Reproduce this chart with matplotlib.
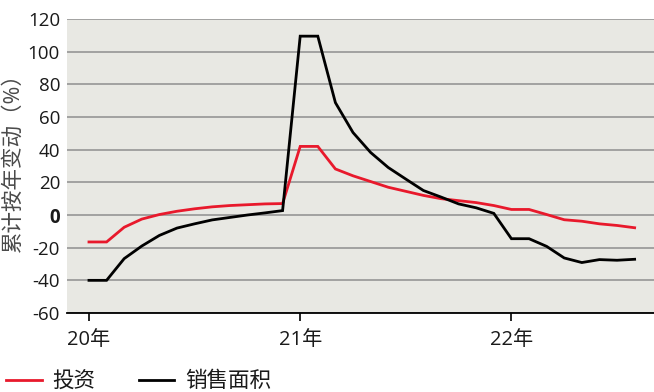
import matplotlib
matplotlib.use("Agg")
import matplotlib.pyplot as plt
from matplotlib.ticker import FixedLocator

plt.rcParams['font.family'] = ['Open Sans', 'Noto Sans CJK SC', 'DejaVu Sans']

# Monthly cumulative YoY change, Jan 2020 - Aug 2022 (Jan repeats the Jan-Feb figure)
months = list(range(32))
investment = [-16.5, -16.5, -7.5, -2.5, 0.3, 2.3, 3.8, 5.0, 5.8, 6.3, 6.8, 7.0,
              42.0, 42.0, 28.2, 24.0, 20.5, 17.0, 14.5, 12.0, 10.0, 8.8, 7.6, 5.8,
              3.4, 3.4, 0.3, -2.9, -3.8, -5.4, -6.4, -7.8]
sales_area = [-40.0, -40.0, -26.7, -19.0, -12.5, -8.0, -5.4, -3.0, -1.5, 0.0, 1.3, 2.7,
              109.5, 109.5, 68.8, 50.5, 38.3, 29.1, 22.0, 15.0, 11.0, 6.8, 4.4, 1.0,
              -14.5, -14.5, -19.2, -26.3, -29.1, -27.3, -27.7, -27.1]
year_ticks = [0, 12, 24]
year_labels = ["20年", "21年", "22年"]
y_ticks = [-60, -40, -20, 0, 20, 40, 60, 80, 100, 120]

fig = plt.figure(figsize=(6.54, 3.92), dpi=100)
ax = fig.add_axes([0.1024, 0.2015, 0.8976, 0.75])
ax.set_facecolor("#e8e8e3")

ax.plot(months, investment, color="#e8192c", lw=2.0, label="投资", solid_joinstyle="miter", zorder=3)
ax.plot(months, sales_area, color="#000000", lw=2.0, label="销售面积", solid_joinstyle="miter", zorder=4)

ax.set_xlim(-1.25, 32.1)
ax.set_ylim(-60, 120)
ax.yaxis.set_major_locator(FixedLocator(y_ticks))
ax.set_yticks(y_ticks)
ax.set_yticklabels([str(v) for v in y_ticks])
for lab in ax.get_yticklabels():
    if lab.get_text() == "0":
        lab.set_fontweight("bold")
ax.grid(axis="y", color="#9c9c9c", lw=1.3, zorder=1)
ax.set_axisbelow(True)

ax.set_xticks(year_ticks)
ax.set_xticklabels(year_labels)

for s in ["left", "right", "top"]:
    ax.spines[s].set_visible(False)
ax.spines["bottom"].set_color("#000000")
ax.spines["bottom"].set_linewidth(1.3)
ax.spines["bottom"].set_zorder(5)

ax.tick_params(axis="y", length=0, pad=5, labelsize=13.5, labelcolor="#1a1a1a")
ax.tick_params(axis="x", length=6, width=1.2, direction="out", pad=6,
               labelsize=14.5, labelcolor="#1a1a1a", color="#000000")

ax.set_ylabel("累计按年变动（%）", fontsize=15.5, color="#4a4a4a")
ax.yaxis.set_label_coords(-0.074, 0.53)

fig.legend(loc="lower left", bbox_to_anchor=(0.003, -0.012), ncol=2, frameon=False,
           fontsize=15.5, handlelength=1.65, handletextpad=0.5, columnspacing=2.0,
           borderpad=0.2, borderaxespad=0.0, labelcolor="#1a1a1a")

fig.savefig("out.png", dpi=100)
